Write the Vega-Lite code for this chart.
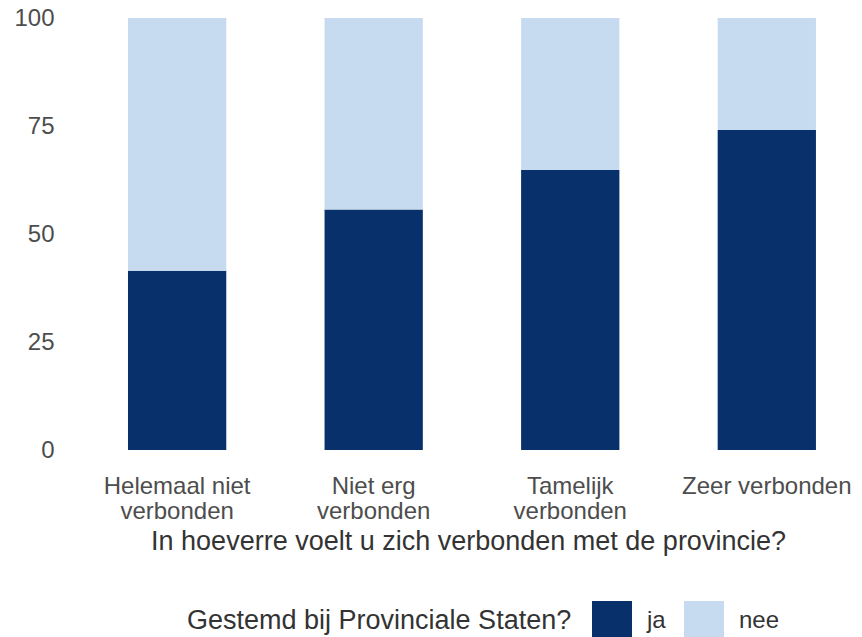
{
  "$schema": "https://vega.github.io/schema/vega-lite/v6.json",
  "autosize": "none",
  "padding": {"left": 62, "top": 18, "right": 0, "bottom": 187},
  "width": 800,
  "height": 432,
  "background": "white",
  "config": {"view": {"stroke": null}, "font": "Liberation Sans"},
  "data": {"values": [
    {"cat": "Helemaal niet verbonden", "vote": "ja", "pct": 41.5},
    {"cat": "Helemaal niet verbonden", "vote": "nee", "pct": 58.5},
    {"cat": "Niet erg verbonden", "vote": "ja", "pct": 55.7},
    {"cat": "Niet erg verbonden", "vote": "nee", "pct": 44.3},
    {"cat": "Tamelijk verbonden", "vote": "ja", "pct": 64.8},
    {"cat": "Tamelijk verbonden", "vote": "nee", "pct": 35.2},
    {"cat": "Zeer verbonden", "vote": "ja", "pct": 74.1},
    {"cat": "Zeer verbonden", "vote": "nee", "pct": 25.9}
  ]},
  "mark": {"type": "bar"},
  "encoding": {
    "x": {
      "field": "cat", "type": "nominal", "sort": null,
      "scale": {"paddingInner": 0.5, "paddingOuter": 0.285, "align": 0.589},
      "axis": {
        "title": "In hoeverre voelt u zich verbonden met de provincie?",
        "labelAngle": 0,
        "labelExpr": "datum.value == 'Helemaal niet verbonden' ? ['Helemaal niet', 'verbonden'] : datum.value == 'Niet erg verbonden' ? ['Niet erg', 'verbonden'] : datum.value == 'Tamelijk verbonden' ? ['Tamelijk', 'verbonden'] : datum.value",
        "labelFontSize": 24, "labelColor": "#4d4d4d", "labelLineHeight": 25,
        "labelPadding": 24, "labelLimit": 400,
        "ticks": false, "domain": false, "grid": false,
        "titleFontSize": 27, "titleFontWeight": "normal", "titleColor": "#333333",
        "titlePadding": 5, "titleX": 406
      }
    },
    "y": {
      "field": "pct", "type": "quantitative", "stack": "zero",
      "scale": {"domain": [0, 100], "nice": false},
      "axis": {
        "title": null, "values": [0, 25, 50, 75, 100],
        "labelFontSize": 24, "labelColor": "#4d4d4d", "labelPadding": 8,
        "ticks": false, "domain": false, "grid": false
      }
    },
    "color": {
      "field": "vote", "type": "nominal",
      "scale": {"domain": ["ja", "nee"], "range": ["#08306b", "#c6dbef"]},
      "legend": {
        "title": "Gestemd bij Provinciale Staten?",
        "orient": "none", "direction": "horizontal",
        "legendX": 125, "legendY": 583,
        "titleOrient": "left", "titleFontSize": 27, "titleFontWeight": "normal",
        "titleColor": "#333333", "titlePadding": 20, "titleBaseline": "middle", "titleAnchor": "middle",
        "titleLimit": 600,
        "symbolType": "square", "symbolSize": 1600, "symbolStrokeWidth": 0, "symbolOpacity": 1,
        "labelFontSize": 24, "labelColor": "#333333", "labelOffset": 15,
        "columnPadding": 18
      }
    },
    "order": {"field": "vote", "sort": "ascending"}
  }
}
